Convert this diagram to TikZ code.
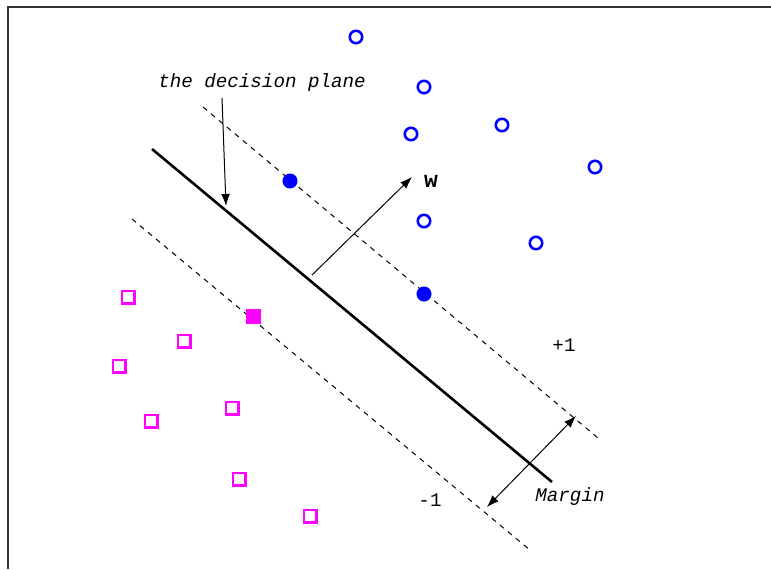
\documentclass[tikz,border=0pt]{standalone}
\usepackage{fontspec}
\setmonofont{Liberation Mono}
\usetikzlibrary{arrows.meta}
\definecolor{posblue}{RGB}{0,0,255}
\definecolor{negpink}{RGB}{255,0,255}
\tikzset{
    svm diagram/.style = {>={Latex[length=6pt, width=4.4pt]}},
    frameline/.style   = {draw=black!80, line width=0.8pt},
    plane/.style       = {line width=1.3pt},
    boundary/.style    = {dashed, dash pattern=on 2.6pt off 2.6pt, line width=0.5pt},
    pointer/.style     = {->, line width=0.5pt},
    posdot/.style      = {circle, draw=posblue, line width=1.3pt,
                          minimum size=6.2pt, inner sep=0pt},
    posdotsv/.style    = {posdot, fill=posblue},
    negbox/.style      = {rectangle, draw=negpink, line width=1.3pt,
                          minimum size=6.2pt, inner sep=0pt},
    negboxsv/.style    = {negbox, fill=negpink},
    tag/.style         = {font=\fontsize{9.6}{11}\selectfont\ttfamily, inner sep=1pt},
    itag/.style        = {tag, font=\fontsize{9.6}{11}\selectfont\ttfamily\itshape}
}
\begin{document}
\begin{tikzpicture}[svm diagram, x=0.5pt, y=-0.5pt]
\useasboundingbox (0,0) rectangle (771,569);

% Frame, open to the right and below
\draw[frameline] (8,569) -- (8,7) -- (771,7);

% Decision plane and the two margin boundaries
\coordinate (planeA) at (152,149);
\coordinate (planeB) at (552,482);
\coordinate (upA)    at (203,107);
\coordinate (upB)    at (598,438);
\coordinate (loA)    at (132,219);
\coordinate (loB)    at (530,550);
\draw[plane] (planeA) -- (planeB);
\draw[boundary] (upA) -- (upB);
\draw[boundary] (loA) -- (loB);

% Positive class
\foreach \x/\y [count=\i] in {356/37,424/87,411/134,502/125,595/167,424/221,536/243}
    \node[posdot] (p\i) at (\x,\y) {};
\node[posdotsv] (ps1) at (290,181) {};
\node[posdotsv] (ps2) at (424,294) {};

% Negative class
\foreach \x/\y [count=\i] in {128/297,184/341,119/366,232/408,151/421,239/479,310/516}
    \node[negbox] (n\i) at (\x,\y) {};
\node[negboxsv] (ns1) at (253,316) {};

% Normal vector w
\coordinate (wfoot) at (312,275);
\coordinate (wtip)  at (412,177);
\draw[pointer] (wfoot) -- (wtip);
\node[tag, font=\fontsize{11.5}{12}\selectfont\ttfamily\bfseries] (w) at (431,181) {w};

% Label for the plane
\node[itag] (planelbl) at (262,83) {the decision plane};
\coordinate (plhit) at (226,206);
\draw[pointer] (222,98) -- (plhit);

% Margin between the boundaries
\coordinate (mlo) at (487,507);
\coordinate (mup) at (576,416);
\draw[<->, line width=0.5pt] (mlo) -- (mup);
\node[itag] (margin) at (570,497) {Margin};

% Class labels
\node[tag] (plus)  at (564,345) {+1};
\node[tag] (minus) at (430,500) {-1};

\end{tikzpicture}
\end{document}
